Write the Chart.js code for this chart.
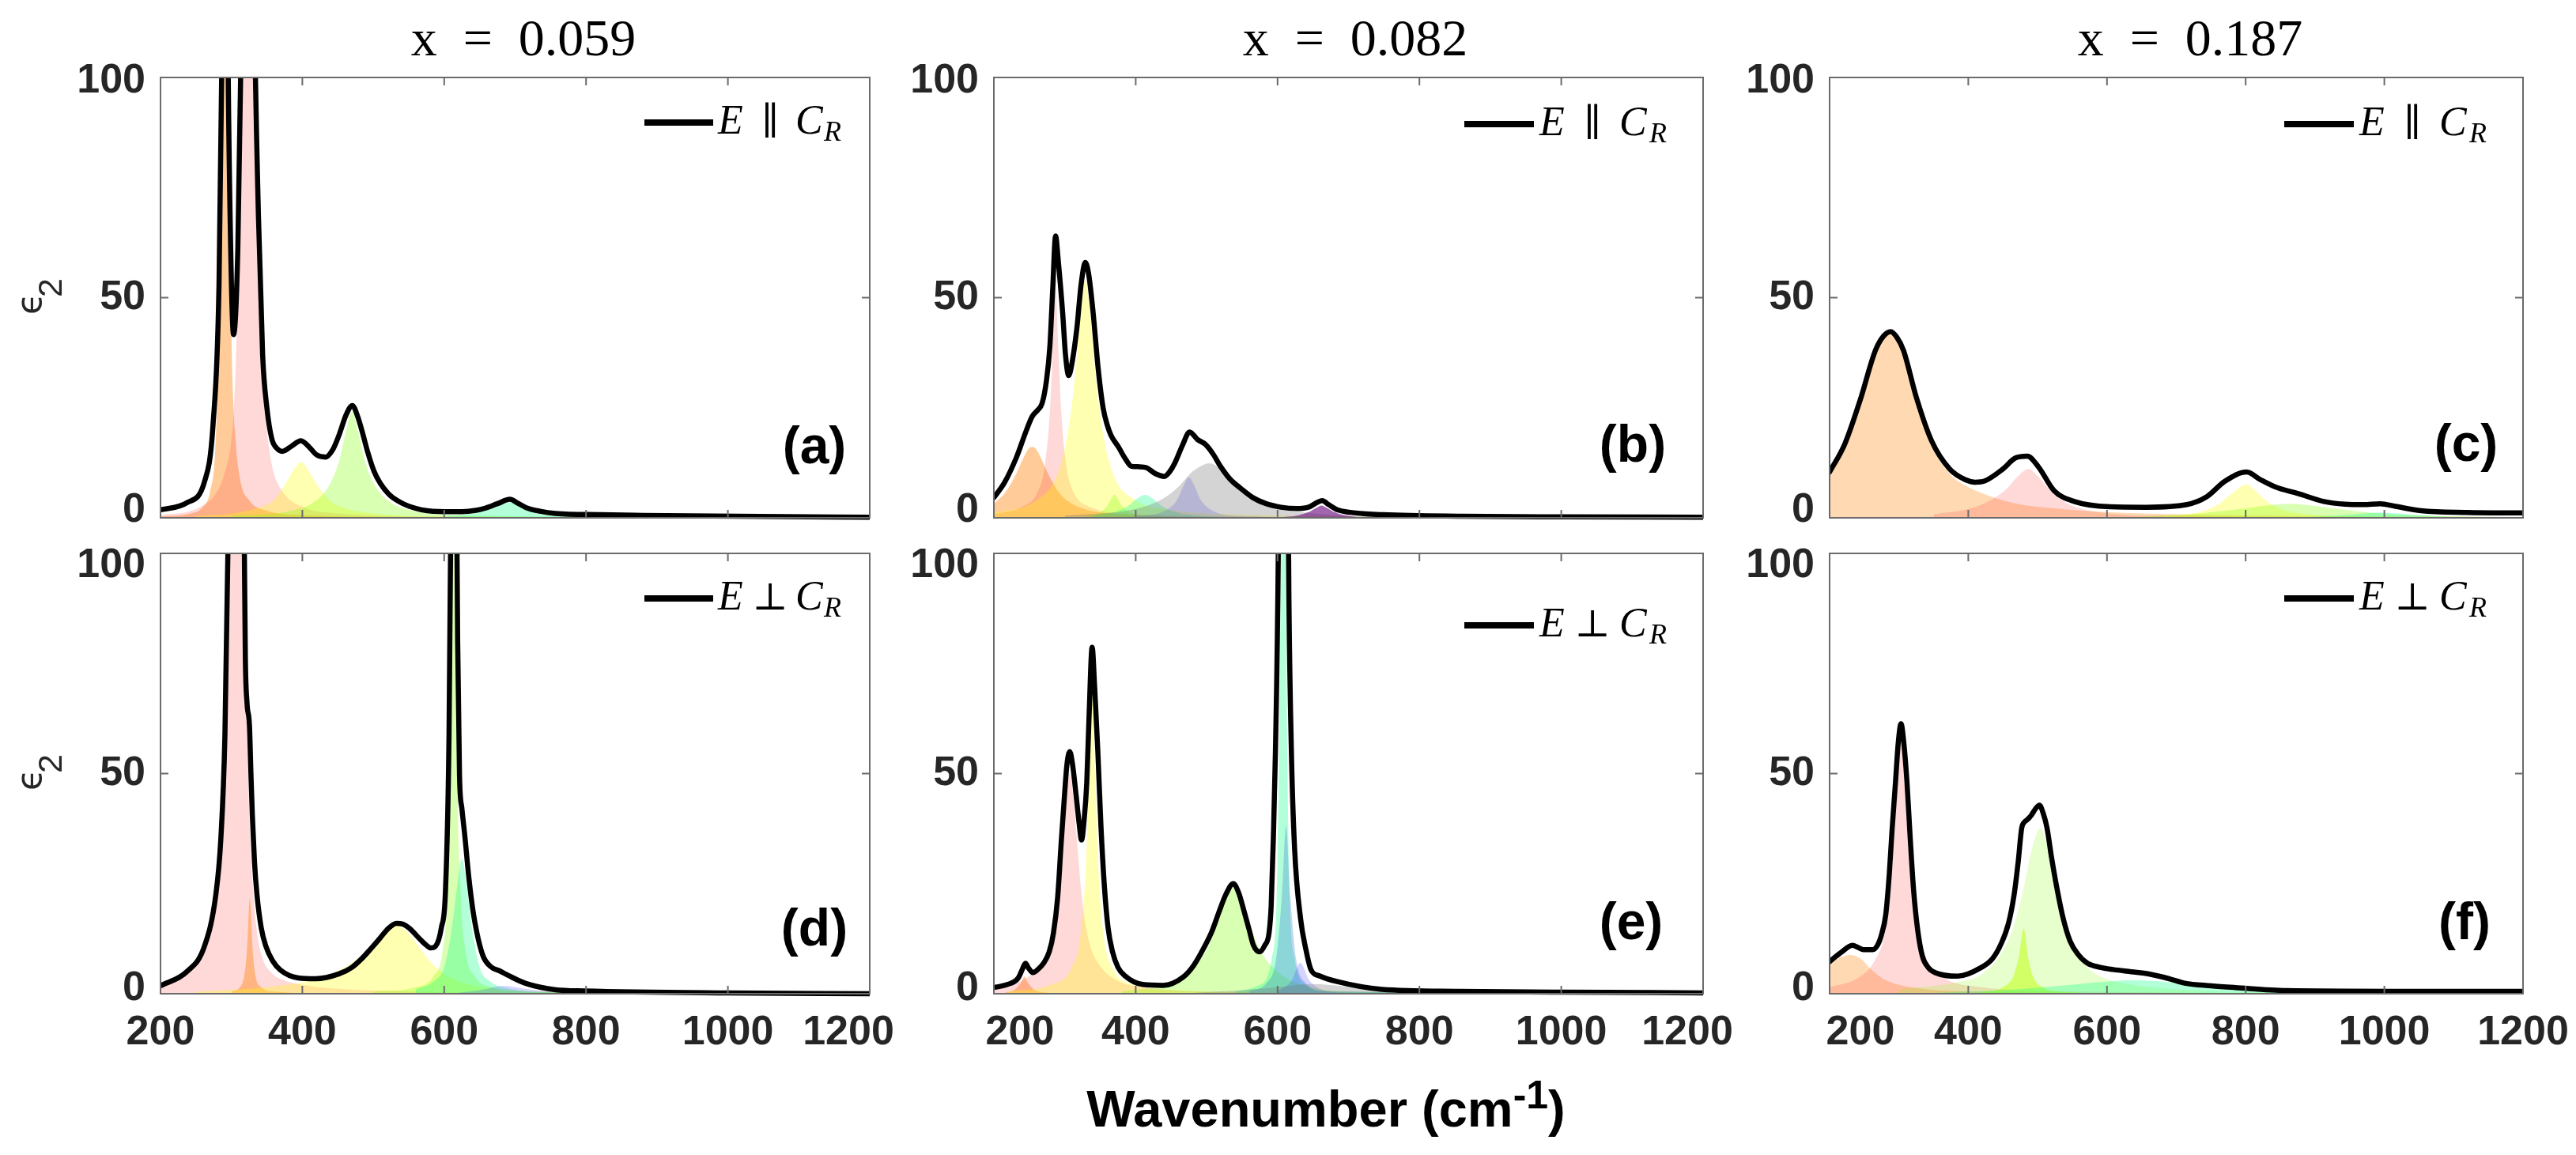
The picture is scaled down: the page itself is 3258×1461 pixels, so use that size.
<!DOCTYPE html>
<html>
<head>
<meta charset="utf-8">
<script src="https://cdn.jsdelivr.net/npm/chart.js@4.4.0/dist/chart.umd.min.js"></script>
<style>
html, body { margin: 0; padding: 0; background: #fff; }
body { width: 3258px; height: 1461px; position: relative; overflow: hidden; }
canvas { position: absolute; }
</style>
</head>
<body>
<canvas id="overlay" width="3258" height="1461" style="left:0;top:0"></canvas>
<canvas id="pa"></canvas>
<canvas id="pb"></canvas>
<canvas id="pc"></canvas>
<canvas id="pd"></canvas>
<canvas id="pe"></canvas>
<canvas id="pf"></canvas>
<script>
// ---- axis ticks / labels ----
const xTicks = [200, 400, 600, 800, 1000, 1200];
const yTicks = [0, 50, 100];
const titles = ["x = 0.059", "x = 0.082", "x = 0.187"];
const xAxisTitle = "Wavenumber (cm";
const xAxisSup = "-1";

// ---- (a) x = 0.059, E || C_R ----
const aTotal = [[200,1.8],[237,3.4],[262,8.2],[274,21],[282.5,53],[287,110],[291,230],[295,110],[299,61],[303,41.6],[309,61],[315,120],[324,260],[332,120],[338,69],[344,37],[350,25],[357,17.9],[364,15.8],[371.6,15.1],[385,16.3],[398,17.5],[410,16],[420,14.3],[432.7,13.8],[443,15.5],[451.5,18.7],[462,23.5],[470.5,25.5],[478,23],[484.5,19.5],[492,15],[501,10.6],[510,7.8],[521.8,5.4],[535,3.8],[550.7,2.6],[583.7,1.5],[625,1.4],[645,1.7],[658,2.2],[675,3.2],[692.6,4.2],[703,3.4],[715.7,2.3],[735,1.5],[757,1.0],[820,0.7],[880,0.56],[1045,0.3],[1200,0.15]];
const aOrange = [[200,0.3],[240,0.9],[260,2.5],[270,6],[277,15],[282,40],[286,90],[291,220],[296,90],[300,42],[305,20],[312,9],[325,4],[350,1.6],[400,0.6],[600,0.15],[1200,0]];
const aPink = [[200,0.6],[250,2],[280,6],[290,10],[300,18],[305,30],[310,60],[315,120],[324,250],[333,120],[338,65],[344,33],[350,20],[357,12],[372,6],[400,2.5],[450,1],[600,0.3],[1200,0]];
const aYellow = [[250,0.4],[300,1],[340,2.4],[360,4],[378,8.2],[388,11],[398,12.6],[408,11],[418,8.2],[438,4],[458,2.3],[500,1],[600,0.3],[1200,0]];
const aGreen = [[300,0.5],[380,1.5],[420,4],[440,8],[452,13],[462,20],[470,24],[478,20],[488,13],[500,8],[520,4],[560,1.5],[650,0.5],[1200,0]];
const aAqua = [[600,0.4],[640,1],[665,2],[680,3],[692,3.5],[705,3],[720,2],[745,1],[800,0.4],[1200,0]];

// ---- (b) x = 0.082, E || C_R ----
const bTotal = [[200,4.6],[215,8],[232,13.8],[245,19.5],[254,23],[262,24.5],[268,26],[274,31],[279,39],[283,52],[287,64],[291,58],[297,46.5],[301,37],[305.5,32.3],[310,35],[317,43],[323,53],[329,58],[334,55],[340,46.5],[347,34],[354,25],[360,21],[365,18.8],[376,16],[385,13.5],[394,11.7],[405,11.6],[415,11.4],[428,10],[440.5,9.4],[448,10.5],[455,12.4],[466,16.5],[476,19.5],[487,17.8],[498,16.7],[509,14.5],[519.5,11.7],[533,8.8],[548,6.7],[565,4.6],[584,3.2],[605,2.4],[627,2.1],[645,2.5],[656,3.5],[663,3.9],[672,3],[685,1.8],[710,1.1],[749,0.7],[857,0.35],[1000,0.22],[1200,0.15]];
const bOrange = [[200,3.2],[215,5.5],[230,9.5],[240,13],[248,15.5],[254,16.1],[260,15.5],[268,13],[278,9.5],[293,5.5],[310,3.2],[340,1.5],[400,0.6],[600,0.1],[1200,0]];
const bPink = [[200,0.8],[240,2.5],[262,6],[272,12],[279,24],[283,38],[287,52],[291,38],[295,24],[302,12],[312,6],[335,2.5],[400,0.8],[600,0.2],[1200,0]];
const bYellow = [[200,1],[260,4],[290,10],[305,20],[315,33],[322,46],[329,54],[336,46],[343,33],[353,20],[368,10],[400,4],[450,1.8],[550,0.7],[700,0.3],[1200,0]];
const bGreen = [[330,0.4],[350,1.2],[360,2.8],[366,4.5],[370,5.3],[374,4.5],[380,2.8],[392,1.2],[420,0.4],[600,0]];
const bAqua = [[340,0.4],[370,1.3],[390,2.8],[403,4.5],[413,5.2],[423,4.5],[436,2.8],[456,1.3],[490,0.5],[600,0]];
const bLavender = [[400,0.4],[440,1.5],[458,4],[468,7.5],[475,9.2],[482,7.5],[492,4],[510,1.5],[550,0.4],[700,0]];
const bGray = [[300,0.5],[400,2],[440,4.5],[460,7],[480,10.5],[495,12],[503,12.4],[512,12],[528,10.2],[545,7.5],[565,4.8],[600,2.3],[650,1],[750,0.3],[1200,0]];
const bPurple = [[600,0.1],[630,0.6],[645,1.4],[655,2.3],[662,2.8],[669,2.3],[679,1.4],[695,0.6],[730,0.1],[1200,0]];

// ---- (c) x = 0.187, E || C_R ----
const cTotal = [[200,10.4],[222,16.8],[244,26.7],[266,38],[278,41.3],[288,42.3],[297,41],[306.6,38],[325,27.4],[347,17.5],[373,11.1],[395,8.7],[410,8.1],[424,8.4],[450,11.1],[468,13.6],[485,14],[501.5,11.5],[523.5,6.2],[553,3.7],[604,2.5],[656,2.4],[715,3.0],[744,4.8],[770,8.3],[801.5,10.4],[821,8.7],[843,7.0],[876,5.5],[913,3.7],[943,3.1],[970,3.0],[994,3.2],[1016,2.6],[1053,1.6],[1119,1.2],[1200,1.1]];
const cOrange = [[200,9.7],[222,16],[244,26],[266,37.5],[288,42],[306,37.5],[325,26.5],[347,16.5],[373,10],[400,7],[430,5],[470,3.2],[520,2.2],[600,1.3],[700,0.8],[900,0.4],[1200,0.2]];
const cPink = [[350,0.8],[400,2],[430,3.8],[455,6.5],[472,9.5],[487,11.1],[500,9.5],[515,6.8],[535,4],[560,2.2],[600,1],[700,0.4],[1200,0]];
const cYellow = [[680,0.4],[730,1.2],[760,3],[780,5.5],[801,7.6],[815,6],[830,3.8],[850,2],[880,1],[950,0.3],[1200,0]];
const cGreen = [[650,0.3],[720,0.8],[780,1.8],[830,2.8],[862,3.2],[895,2.8],[940,1.9],[1000,0.9],[1080,0.4],[1200,0.1]];
const cAqua = [[880,0.1],[930,0.5],[970,1],[994,1.2],[1020,1],[1060,0.5],[1110,0.1],[1200,0]];

// ---- (d) x = 0.059, E perp C_R ----
const dTotal = [[200,1.8],[237,5],[262,10.8],[278,22.5],[285,35],[290.8,58.6],[295,100],[299,160],[306,250],[314,160],[318,105],[319.6,76.6],[322,66],[325.4,61],[327.5,50],[329.5,40.5],[332.5,30],[336,22.5],[342,15],[348.5,10.8],[358,7.5],[369,5.4],[394,3.6],[418.6,3.4],[451.6,4.5],[470,6],[484.6,8.1],[497,10.3],[509.4,12.6],[521,14.8],[532.5,16],[542,15.8],[550.7,14.9],[567,12.2],[575,11],[581,10.4],[587.8,10.8],[596,15],[601.8,23.4],[606.8,58.6],[610,120],[613.5,260],[616.7,130],[619,80],[621.6,49.5],[625,42],[629,36],[635,26],[641.4,18],[653.8,9.0],[666,6.1],[678,5.2],[691,4.1],[715.7,2.3],[757,0.9],[798,0.63],[1000,0.18],[1200,0]];
const dPink = [[200,1.5],[237,4.5],[262,10],[278,21.5],[285,34],[290.8,57],[295,98],[300,160],[307,250],[314,160],[318,100],[321,70],[325,42],[330,25],[336,14],[344,8],[355,5],[370,3.3],[400,2],[450,1.1],[550,0.5],[700,0.2],[1200,0]];
const dOrange = [[300,0.5],[312,1.5],[318,4],[322,10],[326,21.6],[330,10],[334,4],[342,1.5],[360,0.5],[450,0]];
const dYellow = [[250,0.5],[350,1.5],[420,3.3],[460,6],[490,9.5],[510,12.8],[532.5,15.5],[548,14],[565,10.5],[582,7],[600,4.5],[630,2.3],[680,1],[800,0.3],[1200,0]];
const dGreen = [[500,0.5],[560,1.5],[585,4],[598,10],[605,25],[610,70],[614,250],[618,70],[623,25],[630,10],[643,4],[668,1.5],[720,0.5],[1200,0]];
const dAqua = [[560,1],[585,2.8],[600,6],[611,15],[618,24],[625,30.6],[632,24],[639,15],[650,6],[665,2.8],[690,1.2],[750,0.3],[1200,0]];
const dLavender = [[620,0.2],[650,0.8],[668,1.4],[683,1.8],[700,1.5],[725,0.9],[760,0.4],[820,0.1],[1200,0]];

// ---- (e) x = 0.082, E perp C_R ----
const eTotal = [[200,1.4],[219,2.1],[234,3.5],[240,5.5],[244.5,6.9],[249,5.8],[255,4.8],[262,5.5],[270,6.9],[278,9.5],[284,13.8],[290,22],[295,34.5],[300,46],[303,52],[307,55],[311,52],[316,45],[320,39],[323.6,34.9],[327,39],[331,48],[334,62],[338.6,78.7],[342,70],[346.6,55],[351,38],[356,24],[361,15],[367,9.7],[375,6],[384.6,4.1],[410,2.1],[438.5,1.9],[467,3.8],[482,6.5],[496,10.4],[507,14],[517.5,18.6],[527,22.5],[537.6,25],[545,23],[553,18.6],[560,14.5],[566,11],[575,9.5],[582,11],[588,13.8],[591,20],[594,35],[597,55],[601,100],[604,180],[608,260],[612,180],[616,90],[619.5,55],[624,33],[632.5,17],[640,10],[647,5.5],[660,4],[683,2.8],[747,1.0],[855,0.55],[1000,0.35],[1200,0.2]];
const eOrange = [[215,0.2],[230,1],[238,2.5],[243,3.9],[248,2.5],[256,1],[270,0.3],[300,0]];
const ePink = [[200,1],[240,3],[265,6.5],[280,12],[290,22],[297,35],[302,45],[307,50],[312,45],[317,35],[324,22],[334,12],[349,6.5],[374,3],[420,1.3],[500,0.5],[700,0.2],[1200,0]];
const eYellow = [[220,0.5],[280,2],[310,6],[322,13],[330,30],[334,50],[338.6,73],[343,50],[347,30],[355,13],[367,6],[397,2],[450,0.8],[600,0.2],[1200,0]];
const eGreen = [[380,0.5],[440,2],[475,5],[500,10],[517,17],[530,22.5],[537.6,24],[545,22.5],[558,17],[575,10],[600,5],[635,2],[700,0.5],[1200,0]];
const eAqua = [[540,0.5],[575,2],[592,8],[600,30],[604,90],[608,250],[612,90],[616,30],[624,8],[641,2],[676,0.5],[1200,0]];
const eBlue = [[560,0.6],[585,2.5],[598,8],[606,22],[612,38],[618,22],[626,8],[639,2.5],[664,0.6],[1200,0]];
const eLavender = [[600,0.5],[620,3],[632,7],[645,3],[665,0.8],[700,0.2],[1200,0]];
const eGray = [[480,0.2],[550,0.8],[600,1.5],[647,2.2],[700,1.6],[760,0.8],[850,0.3],[1000,0.1],[1200,0]];

// ---- (f) x = 0.187, E perp C_R ----
const fTotal = [[200,7.3],[216,9.3],[233,11],[241,10.5],[249,10],[262,10],[269,11],[275,13.5],[281,18],[286,27],[290,37],[295,48],[299,57],[303,61.3],[307,57],[311.6,48],[316,36],[321,23.8],[327,14.5],[333.7,8.6],[342,6],[352,4.8],[385,4.0],[418,5.9],[435,8],[447.5,11.4],[458,16],[466,22.4],[472,30],[477,37.6],[481,39],[484,39.4],[488,40],[491.6,40.7],[497,42],[502.6,42.8],[508,41],[513.6,37.6],[520,31],[528,23.8],[537,17],[546.7,12],[558,9],[572,6.9],[590,6],[609,5.5],[635,5],[660.5,4.5],[690,3.4],[712,2.4],[750,1.8],[785,1.4],[859,0.7],[1006,0.55],[1200,0.55]];
const fOrange = [[200,6.5],[215,8.2],[231,8.8],[246,7.8],[260,5.5],[278,3.3],[300,2],[340,1],[400,0.5],[550,0.2],[1200,0]];
const fPink = [[200,1.5],[240,3.5],[265,7.5],[280,14],[289,26],[296,43],[303,58],[310,43],[317,26],[326,14],[341,7.5],[366,3.5],[420,1.5],[550,0.5],[1200,0]];
const fPaleGreen = [[300,1],[380,2.5],[420,4.5],[447,9],[465,15],[480,24],[492,33],[504,37.6],[513,34],[525,25],[540,15],[555,9.5],[570,6.3],[590,4],[630,2.2],[700,1],[800,0.4],[1200,0.1]];
const fLime = [[420,0.4],[450,1.5],[465,4],[473,8.5],[480,14.8],[486,8.5],[493,4],[507,1.5],[540,0.4],[650,0]];
const fAqua = [[350,0.2],[450,0.8],[520,1.6],[580,2.5],[638,3.1],[690,2.6],[750,1.6],[820,0.7],[900,0.3],[1000,0.1],[1200,0]];

// ---- styles ----
const fills = {
  orange: "rgba(255,128,0,0.4)",
  peach: "rgba(255,128,0,0.3)",
  pink: "rgba(255,60,60,0.2)",
  yellow: "rgba(255,255,0,0.3)",
  green: "rgba(128,255,0,0.3)",
  paleGreen: "rgba(128,255,0,0.2)",
  lime: "rgba(190,255,0,0.5)",
  aqua: "rgba(0,255,128,0.3)",
  blue: "rgba(50,120,220,0.3)",
  lavender: "rgba(60,60,255,0.22)",
  gray: "rgba(120,120,120,0.32)",
  purple: "rgba(110,20,130,0.65)"
};

const colLeft = [203, 1257, 2314];
const colWidth = [897, 897, 877];
const rowTop = [98, 700];
const rowHeight = 557;
const pad = { left: 190, top: 30, right: 70 };
const padBottom = [30, 100];

const panels = [
  { id: "pa", col: 0, row: 0, letter: "(a)", pol: "par", total: aTotal,
    parts: [[aOrange, "orange"], [aPink, "pink"], [aYellow, "yellow"], [aGreen, "green"], [aAqua, "aqua"]],
    legendDy: 57, letterDx: 70, letterDy: 87, xNudge: {} },
  { id: "pb", col: 1, row: 0, letter: "(b)", pol: "par", total: bTotal,
    parts: [[bOrange, "orange"], [bPink, "pink"], [bYellow, "yellow"], [bGreen, "green"], [bAqua, "aqua"], [bLavender, "lavender"], [bGray, "gray"], [bPurple, "purple"]],
    legendDy: 59, letterDx: 89, letterDy: 89, xNudge: {} },
  { id: "pc", col: 2, row: 0, letter: "(c)", pol: "par", total: cTotal,
    parts: [[cOrange, "peach"], [cPink, "pink"], [cYellow, "yellow"], [cGreen, "green"], [cAqua, "aqua"]],
    legendDy: 59, letterDx: 72, letterDy: 90, xNudge: {} },
  { id: "pd", col: 0, row: 1, letter: "(d)", pol: "perp", total: dTotal,
    parts: [[dPink, "pink"], [dOrange, "orange"], [dYellow, "yellow"], [dGreen, "green"], [dAqua, "aqua"], [dLavender, "lavender"]],
    legendDy: 57, letterDx: 70, letterDy: 79, xNudge: { 1200: -27 } },
  { id: "pe", col: 1, row: 1, letter: "(e)", pol: "perp", total: eTotal,
    parts: [[eOrange, "orange"], [ePink, "pink"], [eYellow, "yellow"], [eGreen, "green"], [eAqua, "aqua"], [eBlue, "blue"], [eLavender, "lavender"], [eGray, "gray"]],
    legendDy: 91, letterDx: 91, letterDy: 87, xNudge: { 200: 33, 1200: -20 } },
  { id: "pf", col: 2, row: 1, letter: "(f)", pol: "perp", total: fTotal,
    parts: [[fOrange, "peach"], [fPink, "pink"], [fPaleGreen, "paleGreen"], [fLime, "lime"], [fAqua, "aqua"]],
    legendDy: 57, letterDx: 74, letterDy: 87, xNudge: { 200: 39 } }
];

const yNudge = [{ 0: -9, 50: 0, 100: 5 }, { 0: -6, 50: 0, 100: 16 }];

function toXY(pairs) {
  return pairs.map(function (p) { return { x: p[0], y: p[1] }; });
}

function drawLegend(ctx, a, p) {
  const first = p.col === 0;
  const ly = a.top + p.legendDy;
  const lineA = a.right - (first ? 285 : 302);
  const lineB = a.right - (first ? 198 : 214);
  ctx.strokeStyle = "#000";
  ctx.lineWidth = 8;
  ctx.lineCap = "butt";
  ctx.beginPath();
  ctx.moveTo(lineA, ly);
  ctx.lineTo(lineB, ly);
  ctx.stroke();

  const base = ly + 14;
  ctx.fillStyle = "#000";
  ctx.textBaseline = "alphabetic";
  ctx.textAlign = "left";
  ctx.font = 'italic 52px "Liberation Serif", "Times New Roman", serif';
  ctx.fillText("E", a.right - (first ? 192 : 207), base);
  ctx.textAlign = "center";
  ctx.font = '48px "DejaVu Serif", serif';
  ctx.fillText(p.pol === "perp" ? "\u22A5" : "\u2225", a.right - (first ? 126 : 140), base);
  ctx.textAlign = "left";
  ctx.font = 'italic 52px "Liberation Serif", "Times New Roman", serif';
  ctx.fillText("C", a.right - (first ? 94 : 106), base);
  ctx.font = 'italic 36px "Liberation Serif", "Times New Roman", serif';
  ctx.fillText("R", a.right - (first ? 58 : 68), base + 9);
}

const framePlugin = {
  id: "frame",
  afterDraw(chart, args, opts) {
    const p = opts.panel;
    const ctx = chart.ctx;
    const a = chart.chartArea;
    const xs = chart.scales.x;
    const ys = chart.scales.y;
    ctx.save();

    // box and inward ticks
    ctx.strokeStyle = "#6b6b6b";
    ctx.lineWidth = 2;
    ctx.strokeRect(a.left, a.top, a.right - a.left, a.bottom - a.top);
    ctx.beginPath();
    xTicks.forEach(function (v) {
      const px = xs.getPixelForValue(v);
      ctx.moveTo(px, a.bottom); ctx.lineTo(px, a.bottom - 10);
      ctx.moveTo(px, a.top); ctx.lineTo(px, a.top + 10);
    });
    yTicks.forEach(function (v) {
      const py = ys.getPixelForValue(v);
      ctx.moveTo(a.left, py); ctx.lineTo(a.left + 10, py);
      ctx.moveTo(a.right, py); ctx.lineTo(a.right - 10, py);
    });
    ctx.stroke();

    // tick labels
    ctx.fillStyle = "#262626";
    ctx.font = 'bold 52px "Liberation Sans", Arial, sans-serif';
    ctx.textAlign = "right";
    ctx.textBaseline = "middle";
    yTicks.forEach(function (v) {
      ctx.fillText(String(v), a.left - 19, ys.getPixelForValue(v) + yNudge[p.row][v]);
    });
    if (p.row === 1) {
      ctx.textAlign = "center";
      xTicks.forEach(function (v) {
        ctx.fillText(String(v), xs.getPixelForValue(v) + (p.xNudge[v] || 0), a.bottom + 50);
      });
    }

    // panel letter
    ctx.fillStyle = "#000";
    ctx.font = 'bold 66px "Liberation Sans", Arial, sans-serif';
    ctx.textAlign = "center";
    ctx.textBaseline = "middle";
    ctx.fillText(p.letter, a.right - p.letterDx, a.bottom - p.letterDy);

    drawLegend(ctx, a, p);
    ctx.restore();
  }
};

panels.forEach(function (p) {
  const cv = document.getElementById(p.id);
  const w = colWidth[p.col] + pad.left + pad.right;
  const h = rowHeight + pad.top + padBottom[p.row];
  cv.width = w;
  cv.height = h;
  cv.style.left = (colLeft[p.col] - pad.left) + "px";
  cv.style.top = (rowTop[p.row] - pad.top) + "px";

  const datasets = [{
    data: toXY(p.total),
    borderColor: "#000",
    borderWidth: 6.5,
    borderJoinStyle: "round",
    borderCapStyle: "round",
    fill: false,
    pointRadius: 0,
    cubicInterpolationMode: "monotone",
    clip: { left: 0, top: 0, right: 0, bottom: 5 }
  }];
  p.parts.slice().reverse().forEach(function (part) {
    datasets.push({
      data: toXY(part[0]),
      borderColor: "rgba(0,0,0,0)",
      borderWidth: 0,
      backgroundColor: fills[part[1]],
      fill: "origin",
      pointRadius: 0,
      cubicInterpolationMode: "monotone"
    });
  });

  new Chart(cv, {
    type: "line",
    data: { datasets: datasets },
    options: {
      responsive: false,
      animation: false,
      devicePixelRatio: 1,
      parsing: false,
      layout: { padding: { left: pad.left, top: pad.top, right: pad.right, bottom: padBottom[p.row] } },
      plugins: { legend: { display: false }, tooltip: { enabled: false }, frame: { panel: p } },
      scales: {
        x: { type: "linear", min: 200, max: 1200, display: false },
        y: { type: "linear", min: 0, max: 100, display: false }
      }
    },
    plugins: [framePlugin]
  });
});

// ---- figure-level text ----
const oc = document.getElementById("overlay").getContext("2d");
const titleCenters = [662, 1714, 2770];
oc.fillStyle = "#000";
oc.textAlign = "center";
oc.textBaseline = "alphabetic";
oc.font = '66px "Liberation Serif", "Times New Roman", serif';
titles.forEach(function (t, i) {
  oc.fillText(t.replace(/ /g, "\u2002"), titleCenters[i], 70);
});

// x axis title with superscript
oc.font = 'bold 65px "Liberation Sans", Arial, sans-serif';
const w1 = oc.measureText(xAxisTitle).width;
const w3 = oc.measureText(")").width;
oc.font = 'bold 50px "Liberation Sans", Arial, sans-serif';
const w2 = oc.measureText(xAxisSup).width;
let sx = 1677 - (w1 + w2 + w3) / 2;
oc.textAlign = "left";
oc.font = 'bold 65px "Liberation Sans", Arial, sans-serif';
oc.fillText(xAxisTitle, sx, 1425);
oc.font = 'bold 50px "Liberation Sans", Arial, sans-serif';
oc.fillText(xAxisSup, sx + w1, 1402);
oc.font = 'bold 65px "Liberation Sans", Arial, sans-serif';
oc.fillText(")", sx + w1 + w2, 1425);

// rotated epsilon_2 labels
oc.fillStyle = "#262626";
[0, 602].forEach(function (dy) {
  oc.save();
  oc.rotate(-Math.PI / 2);
  oc.textAlign = "left";
  oc.font = '44px "DejaVu Sans", sans-serif';
  oc.fillText("\u03F5", -(398 + dy), 52);
  oc.font = '43px "Liberation Sans", Arial, sans-serif';
  oc.fillText("2", -(376 + dy), 78);
  oc.restore();
});
</script>
</body>
</html>
